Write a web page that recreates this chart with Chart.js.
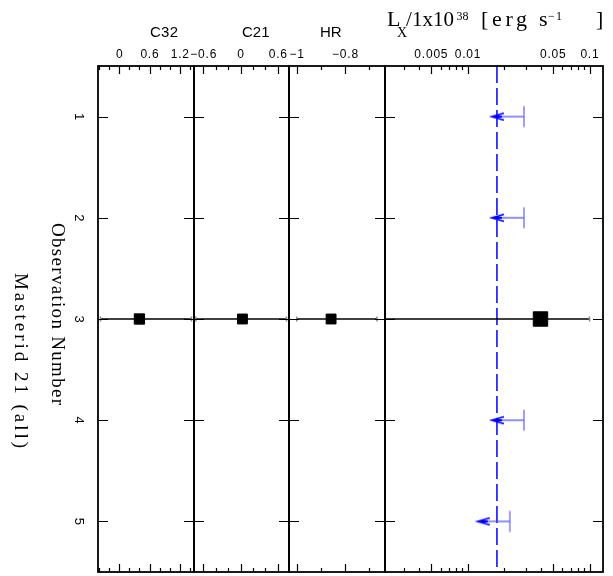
<!DOCTYPE html>
<html>
<head>
<meta charset="utf-8">
<script src="https://cdn.jsdelivr.net/npm/chart.js@4.4.0/dist/chart.umd.min.js"></script>
<style>
  body { margin: 0; background: #fff; }
  #wrap { position: relative; width: 613px; height: 576px; }
  #wrap canvas { position: absolute; left: 0; top: 0; }
</style>
</head>
<body>
<div id="wrap">
  <canvas id="pC32" width="613" height="576"></canvas>
  <canvas id="pC21" width="613" height="576"></canvas>
  <canvas id="pHR" width="613" height="576"></canvas>
  <canvas id="pLx" width="613" height="576"></canvas>
</div>
<script>
// observations (null = no detection in that observation)
const observations = [1, 2, 3, 4, 5];
const c32 = [null, null, 0.40, null, null];
const c32Low = [null, null, -0.37, null, null];
const c32High = [null, null, 1.43, null, null];
const c21 = [null, null, 0.03, null, null];
const c21Low = [null, null, -0.72, null, null];
const c21High = [null, null, 0.74, null, null];
const hr = [null, null, -0.858, null, null];
const hrLow = [null, null, -1.0, null, null];
const hrHigh = [null, null, -0.668, null, null];
const lx = [null, null, 0.0396, null, null];
const lxLow = [null, null, 0.0012, null, null];
const lxHigh = [null, null, 0.1, null, null];
const lxUpperLimit = [0.029, 0.029, null, 0.029, 0.0222];
const lxDetectionLimit = 0.0174;

// tick labels
const obsTicks = [1, 2, 3, 4, 5];
const c32Ticks = [0, 0.6, 1.2];
const c21Ticks = [-0.6, 0, 0.6];
const hrTicks = [-1, -0.8];
const lxTicks = [0.005, 0.01, 0.05, 0.1];

const W = 613, H = 576, TOP = 66, BOTTOM = 572;
const SANS = '"Liberation Sans", Arial, sans-serif';
const SERIF = '"Liberation Serif", "Times New Roman", serif';

const panels = [
  { id: 'pC32', left: 98, right: 194, type: 'linear', min: -0.42, max: 1.48, minorStep: 0.2,
    ticks: c32Ticks, values: c32, low: c32Low, high: c32High, title: 'C32', titleBox: [150, 178], radius: 7.3 },
  { id: 'pC21', left: 194, right: 289, type: 'linear', min: -0.75, max: 0.78, minorStep: 0.2,
    ticks: c21Ticks, values: c21, low: c21Low, high: c21High, title: 'C21', titleBox: [242, 268], radius: 7 },
  { id: 'pHR', left: 289, right: 385, type: 'linear', min: -1.032, max: -0.635, minorStep: 0.1,
    ticks: hrTicks, values: hr, low: hrLow, high: hrHigh, title: 'HR', titleBox: [320, 340], radius: 7 },
  { id: 'pLx', left: 385, right: 603, type: 'logarithmic', min: 0.0021, max: 0.129,
    ticks: lxTicks, values: lx, low: lxLow, high: lxHigh, radius: 10.2 }
];

function fmt(v) {
  return String(v).replace('-', '\u2212');
}

// draw text stretched to a given width (the original font is wide)
function fitText(ctx, text, x, y, width, font) {
  ctx.font = font;
  ctx.letterSpacing = '0px';
  const w = ctx.measureText(text).width;
  const n = [...text].length;
  ctx.letterSpacing = (n > 1 ? Math.max(0, (width - w) / (n - 1)) : 0) + 'px';
  ctx.textAlign = 'left';
  ctx.fillText(text, x, y);
  ctx.letterSpacing = '0px';
}

function minorTicks(p) {
  const out = [];
  if (p.type === 'logarithmic') {
    for (let d = -3; d <= -1; d++) {
      for (let k = 1; k <= 9; k++) {
        const v = k * Math.pow(10, d);
        if (v >= p.min && v <= p.max && !p.ticks.some(t => Math.abs(t - v) < v * 1e-6)) out.push(v);
      }
    }
  } else {
    for (let k = Math.ceil(p.min / p.minorStep); k * p.minorStep <= p.max; k++) {
      const v = +(k * p.minorStep).toFixed(6);
      if (!p.ticks.some(t => Math.abs(t - v) < 1e-6)) out.push(v);
    }
  }
  return out;
}

function arrowGlyph() {
  const c = document.createElement('canvas');
  c.width = 72; c.height = 26;
  const g = c.getContext('2d');
  g.strokeStyle = 'rgba(70,70,255,0.8)';
  g.lineWidth = 1.3;
  g.beginPath();
  g.moveTo(36, 2.5); g.lineTo(36, 23.5);
  g.moveTo(36, 13); g.lineTo(5, 13);
  g.stroke();
  g.strokeStyle = '#0000ff';
  g.lineWidth = 1.8;
  g.beginPath();
  g.moveTo(16, 9.5); g.lineTo(4, 13); g.lineTo(16, 16.5);
  g.moveTo(6, 13); g.lineTo(14, 13);
  g.stroke();
  return c;
}

function framePlugin(p, first, last) {
  return {
    id: 'frame',
    afterDraw(chart) {
      const ctx = chart.ctx;
      const a = chart.chartArea;
      const xs = chart.scales.x, ys = chart.scales.y;
      ctx.save();
      ctx.strokeStyle = '#000';
      ctx.fillStyle = '#000';
      ctx.lineWidth = 1.2;
      ctx.beginPath();
      minorTicks(p).forEach(v => {
        const x = Math.round(xs.getPixelForValue(v)) + 0.5;
        ctx.moveTo(x, a.top); ctx.lineTo(x, a.top + 4);
        ctx.moveTo(x, a.bottom); ctx.lineTo(x, a.bottom - 4);
      });
      p.ticks.forEach(v => {
        const x = Math.round(xs.getPixelForValue(v)) + 0.5;
        ctx.moveTo(x, a.top); ctx.lineTo(x, a.top + 8);
        ctx.moveTo(x, a.bottom); ctx.lineTo(x, a.bottom - 8);
      });
      obsTicks.forEach(v => {
        const y = Math.round(ys.getPixelForValue(v)) + 0.5;
        ctx.moveTo(a.left, y); ctx.lineTo(a.left + 10, y);
        ctx.moveTo(a.right, y); ctx.lineTo(a.right - 10, y);
      });
      ctx.stroke();

      ctx.lineWidth = 1.8;
      ctx.strokeRect(a.left, a.top, a.right - a.left, a.bottom - a.top);

      // top tick labels
      ctx.font = '12px ' + SANS;
      ctx.letterSpacing = '0.8px';
      ctx.textAlign = 'center';
      ctx.textBaseline = 'alphabetic';
      p.ticks.forEach(v => {
        ctx.fillText(fmt(v), xs.getPixelForValue(v) + 0.4, 58);
      });
      ctx.letterSpacing = '0px';

      if (p.title) {
        fitText(ctx, p.title, p.titleBox[0], 37, p.titleBox[1] - p.titleBox[0], '15px ' + SANS);
      }

      if (last) {
        // L_X / 1x10^38 [erg s^-1]
        ctx.textBaseline = 'alphabetic';
        fitText(ctx, 'L', 387, 26, 10, '22px ' + SERIF);
        fitText(ctx, 'X', 397, 37, 9, '14px ' + SERIF);
        fitText(ctx, '/1x10', 406, 26, 48, '21px ' + SERIF);
        fitText(ctx, '38', 456.5, 20, 12, '12px ' + SERIF);
        fitText(ctx, '[erg', 481, 26, 46, '22px ' + SERIF);
        fitText(ctx, 's', 539, 26, 8, '22px ' + SERIF);
        fitText(ctx, '\u22121', 548, 20, 14, '12px ' + SERIF);
        fitText(ctx, ']', 596, 26, 7, '22px ' + SERIF);
      }

      if (first) {
        // rotated labels on the left, reading top to bottom
        ctx.textBaseline = 'alphabetic';
        obsTicks.forEach(v => {
          ctx.save();
          ctx.translate(75, ys.getPixelForValue(v));
          ctx.rotate(Math.PI / 2);
          ctx.font = '13px ' + SANS;
          ctx.textAlign = 'center';
          ctx.fillText(String(v), 0, 0);
          ctx.restore();
        });
        [['Observation Number', 51.5, 314, 182], ['Masterid 21 (all)', 15, 360.5, 175]].forEach(t => {
          ctx.save();
          ctx.translate(t[1], t[2]);
          ctx.rotate(Math.PI / 2);
          fitText(ctx, t[0], -t[3] / 2, 0, t[3], '19px ' + SERIF);
          ctx.restore();
        });
      }
      ctx.restore();
    }
  };
}

panels.forEach((p, i) => {
  const isLx = p.type === 'logarithmic';
  const datasets = [
    {
      data: observations.map((o, k) => ({ x: p.values[k], y: o })).filter(d => d.x !== null),
      pointStyle: 'rect', pointRadius: p.radius,
      backgroundColor: '#000', borderColor: '#000', borderWidth: 1
    }
  ];
  if (isLx) {
    datasets.push({
      data: observations.map((o, k) => ({ x: lxUpperLimit[k], y: o })).filter(d => d.x !== null),
      pointStyle: arrowGlyph(), pointRadius: 10
    });
  }
  observations.forEach((o, k) => {
    if (p.low[k] === null) return;
    datasets.push({
      data: [{ x: p.low[k], y: o }, { x: p.high[k], y: o }],
      showLine: true, borderColor: '#000', borderWidth: 1.4,
      pointStyle: 'line', rotation: 90, pointRadius: 2.5,
      pointBorderColor: '#888', pointBorderWidth: 1.5, clip: 0
    });
  });
  if (isLx) {
    datasets.push({
      data: [{ x: lxDetectionLimit, y: 0.5 }, { x: lxDetectionLimit, y: 5.5 }],
      showLine: true, borderColor: '#0000ff', borderWidth: 1.5,
      borderDash: [17, 5], pointRadius: 0, clip: 0
    });
  }

  new Chart(document.getElementById(p.id), {
    type: 'scatter',
    data: { datasets: datasets },
    options: {
      responsive: false,
      animation: false,
      events: [],
      layout: {
        autoPadding: false,
        padding: { left: p.left, right: W - p.right, top: TOP, bottom: H - BOTTOM }
      },
      plugins: { legend: { display: false }, tooltip: { enabled: false } },
      scales: {
        x: { type: p.type, min: p.min, max: p.max, display: false },
        y: { type: 'linear', min: 0.5, max: 5.5, reverse: true, display: false }
      }
    },
    plugins: [framePlugin(p, i === 0, i === panels.length - 1)]
  });
});
</script>
</body>
</html>
